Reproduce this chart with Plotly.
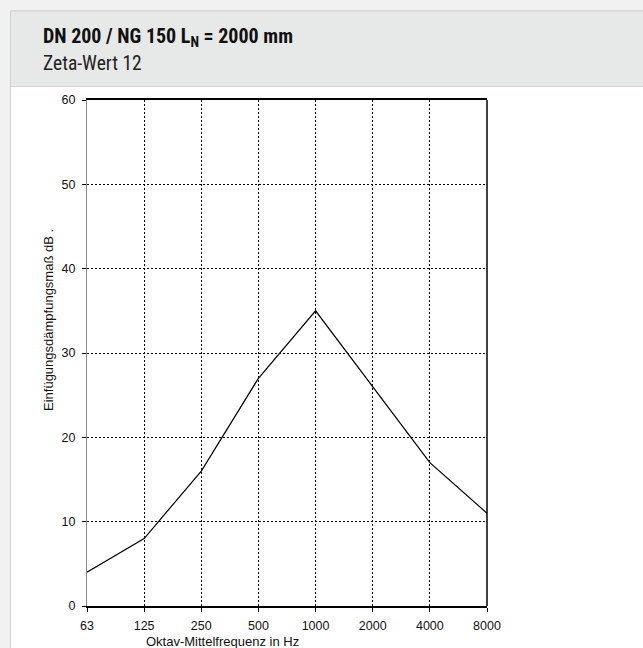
import plotly.graph_objects as go

# Oktav-Mittelfrequenzen und Einfügungsdämpfungsmaß (dB)
frequenzen = ['63', '125', '250', '500', '1000', '2000', '4000', '8000']
daempfung = [4, 8, 16, 27, 35, 26, 17, 11]

titel = 'DN 200 / NG 150 L<sub>N</sub> = 2000 mm'
untertitel = 'Zeta-Wert 12'
x_titel = 'Oktav-Mittelfrequenz in Hz'
y_titel = 'Einfügungsdämpfungsmaß dB .'

# Plotbereich in Pixeln
L, R, T, B = 87, 487, 100, 606
W, H = 643, 648


def px_x(v):
    return (v - L) / (R - L)


def px_y(v):
    return (B - v) / (B - T)


narrow = 'Liberation Sans Narrow, Roboto Condensed, Arial Narrow, Roboto, sans-serif'
arial = 'Liberation Sans, Arial, sans-serif'

fig = go.Figure()

fig.add_trace(go.Scatter(
    x=list(range(len(frequenzen))),
    y=daempfung,
    mode='lines',
    line=dict(color='black', width=1.2),
    hoverinfo='skip',
    showlegend=False
))

shapes = [
    # Karte
    dict(type='rect', xref='paper', yref='paper', layer='below',
         x0=px_x(10.5), x1=px_x(660), y0=px_y(11), y1=px_y(700),
         fillcolor='white', line=dict(color='#d2d2d2', width=1)),
    # Kopfbereich
    dict(type='rect', xref='paper', yref='paper', layer='below',
         x0=px_x(10.5), x1=px_x(660), y0=px_y(11), y1=px_y(86.5),
         fillcolor='#e7e8e8', line=dict(color='#d2d2d2', width=1)),
    # rechter Rahmen
    dict(type='line', xref='paper', yref='paper',
         x0=1, x1=1, y0=0, y1=1, line=dict(color='black', width=1.5)),
]

fig.update_layout(
    width=W, height=H,
    paper_bgcolor='#f1f1f1',
    plot_bgcolor='white',
    margin=dict(l=L, r=W - R, t=T, b=H - B, pad=0),
    shapes=shapes,
    xaxis=dict(
        range=[0, len(frequenzen) - 1],
        tickvals=list(range(len(frequenzen))),
        ticktext=frequenzen,
        showgrid=True, gridcolor='black', gridwidth=1, griddash='2px,2px',
        showline=True, linecolor='black', linewidth=1.5, mirror=True,
        ticks='outside', ticklen=4, tickcolor='black',
        ticklabelstandoff=3,
        tickfont=dict(family=arial, size=12.5, color='#111'),
        zeroline=False, fixedrange=True
    ),
    yaxis=dict(
        range=[0, 60], dtick=10,
        showgrid=True, gridcolor='black', gridwidth=1, griddash='2px,2px',
        showline=True, linecolor='#888', linewidth=1,
        ticks='outside', ticklen=4, tickcolor='black',
        ticklabelstandoff=4,
        tickfont=dict(family=arial, size=12.5, color='#111'),
        zeroline=False, fixedrange=True
    ),
    annotations=[
        dict(text=f'<b>{titel}</b>', xref='paper', yref='paper',
             x=px_x(41), y=px_y(37), xanchor='left', yanchor='middle',
             showarrow=False, font=dict(family=narrow, size=20, color='#111')),
        dict(text=untertitel, xref='paper', yref='paper',
             x=px_x(41), y=px_y(64), xanchor='left', yanchor='middle',
             showarrow=False, font=dict(family=narrow, size=19.5, color='#222')),
        dict(text=x_titel, xref='paper', yref='paper',
             x=px_x(222), y=px_y(641), xanchor='center', yanchor='middle',
             showarrow=False, font=dict(family=arial, size=13, color='#111')),
        dict(text=y_titel, xref='paper', yref='paper', textangle=-90,
             x=px_x(48), y=px_y(320), xanchor='center', yanchor='middle',
             showarrow=False, font=dict(family=arial, size=13, color='#111')),
    ]
)

# Seitenrand entfernen, damit die Grafik bündig im Fenster sitzt
fig.write_html(
    'out.html',
    config={'displayModeBar': False},
    post_script="document.body.style.margin='0';document.body.style.background='#f1f1f1';"
)
